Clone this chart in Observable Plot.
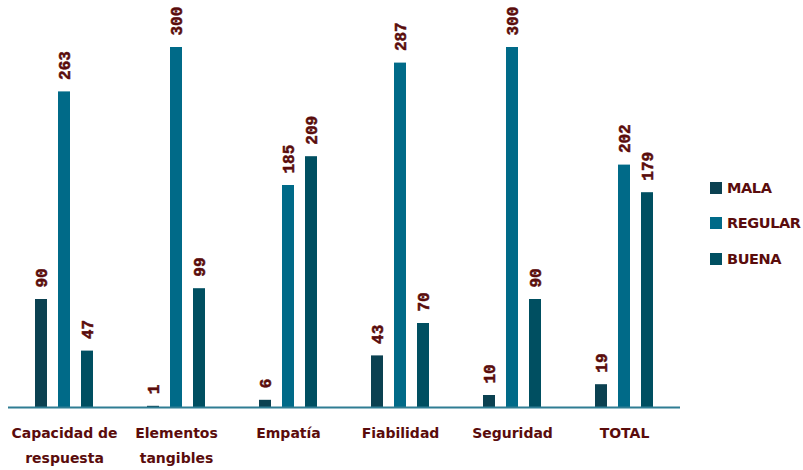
<!DOCTYPE html>
<html>
<head>
<meta charset="utf-8">
<script src="https://cdn.jsdelivr.net/npm/d3@7"></script>
<script src="https://cdn.jsdelivr.net/npm/@observablehq/plot@0.6"></script>
<style>
  html, body { margin: 0; padding: 0; background: #fff; }
  #wrap { position: relative; width: 803px; height: 470px; }
  #legend { position: absolute; left: 710px; top: 170px; font-family: "DejaVu Sans", sans-serif; font-weight: bold; font-size: 14.5px; color: #5a0c0c; letter-spacing: -0.4px; }
  .item { display: flex; align-items: center; height: 35.5px; }
  .sw { width: 12px; height: 12px; margin-right: 5px; }
</style>
</head>
<body>
<div id="wrap"></div>
<script>
const categories = ["Capacidad de\nrespuesta", "Elementos\ntangibles", "Empatía", "Fiabilidad", "Seguridad", "TOTAL"];
const series = ["MALA", "REGULAR", "BUENA"];
const mala = [90, 1, 6, 43, 10, 19];
const regular = [263, 300, 185, 287, 300, 202];
const buena = [47, 99, 209, 70, 90, 179];
const colors = ["#0b4151", "#006a88", "#004f61"];

const valuesBySeries = [mala, regular, buena];
const data = [];
categories.forEach((c, i) => {
  series.forEach((s, j) => data.push({cat: c, serie: s, value: valuesBySeries[j][i]}));
});

const labelColor = "#5a0c0c";

const chart = Plot.plot({
  width: 803,
  height: 470,
  marginLeft: 8,
  marginRight: 123,
  marginTop: 47,
  marginBottom: 63,
  fx: {domain: categories, padding: 0, axis: null, label: null},
  x: {domain: series, paddingInner: 0.485, paddingOuter: 1.14, axis: null, label: null},
  y: {domain: [0, 300], axis: null, label: null},
  color: {domain: series, range: colors},
  marks: [
    Plot.barY(data, {fx: "cat", x: "serie", y: "value", fill: "serie"}),
    Plot.ruleY([0], {stroke: "#2f7d93", strokeWidth: 2}),
    Plot.text(data, {
      fx: "cat", x: "serie", y: "value", text: d => String(d.value),
      rotate: -90, textAnchor: "start", lineAnchor: "middle", dy: -12,
      fill: labelColor, stroke: labelColor, strokeWidth: 0.5,
      fontFamily: "Liberation Mono", fontWeight: "bold", fontSize: 16
    }),
    Plot.text(categories, {
      fx: d => d, text: d => d, frameAnchor: "bottom", lineAnchor: "top", dy: 13,
      lineHeight: 1.78, fill: labelColor, fontFamily: "DejaVu Sans", fontWeight: "bold", fontSize: 14,
      letterSpacing: "-0.3px"
    })
  ]
});

const wrap = document.getElementById("wrap");
wrap.appendChild(chart);

const legend = document.createElement("div");
legend.id = "legend";
series.forEach((s, i) => {
  const item = document.createElement("div");
  item.className = "item";
  const sw = document.createElement("span");
  sw.className = "sw";
  sw.style.background = colors[i];
  const t = document.createElement("span");
  t.textContent = s;
  item.appendChild(sw);
  item.appendChild(t);
  legend.appendChild(item);
});
wrap.appendChild(legend);
</script>
</body>
</html>
